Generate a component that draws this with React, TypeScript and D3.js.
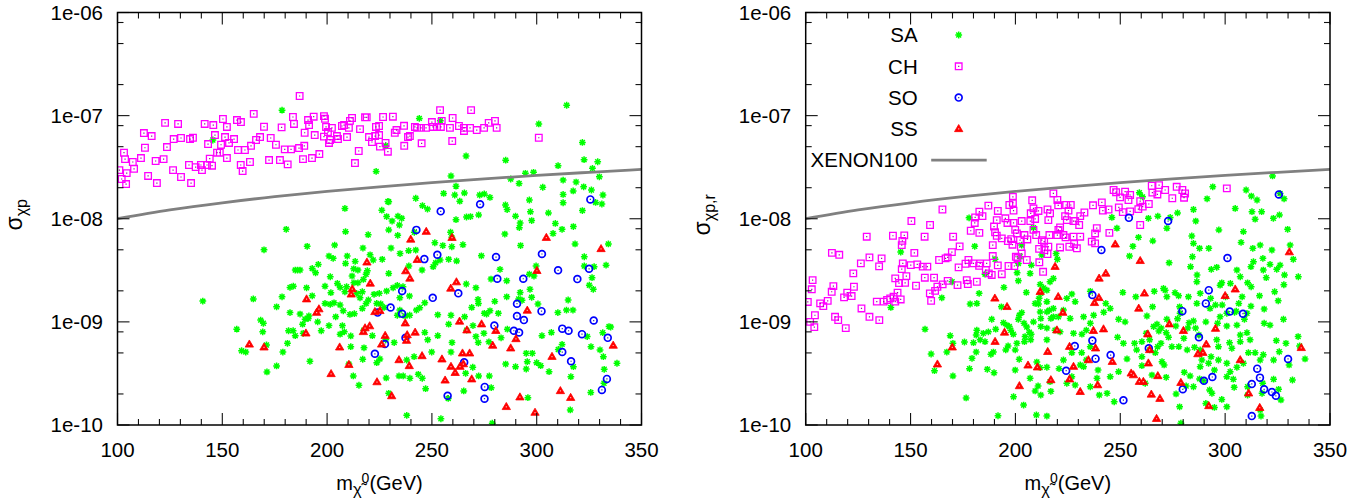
import React from 'react';
import * as d3 from 'd3';

type Pt = [number, number];

const xTickValues = [100, 150, 200, 250, 300, 350];
const yTickValues = [1e-10, 1e-9, 1e-8, 1e-7, 1e-6];
const yTickLabels = ['1e-10', '1e-09', '1e-08', '1e-07', '1e-06'];
const legendLabels = ['SA', 'CH', 'SO', 'SS', 'XENON100'];

const xenonMass = [100, 125, 150, 175, 200, 225, 250, 275, 300, 325, 350];
const xenonSigma = [1.0e-8, 1.217e-8, 1.428e-8, 1.637e-8, 1.84e-8, 2.041e-8, 2.24e-8, 2.436e-8, 2.63e-8, 2.82e-8, 3.013e-8];

const chLeft: Pt[] = [[100.9,2.96e-8],[102.0,2.43e-8],[103.1,4.37e-8],[103.6,3.79e-8],[104.1,2.17e-8],[104.4,2.77e-8],[107.3,3.55e-8],[107.9,3.05e-8],[111.2,3.88e-8],[112.6,6.78e-8],[113.1,4.88e-8],[114.6,2.6e-8],[116.3,6.34e-8],[118.2,3.63e-8],[118.8,2.22e-8],[122.0,3.79e-8],[122.7,8.5e-8],[123.6,4.96e-8],[126.5,2.96e-8],[126.8,5.93e-8],[128.9,8.3e-8],[130.3,6.07e-8],[130.3,2.54e-8],[134.1,3.32e-8],[134.6,5.93e-8],[135.1,2.22e-8],[136.0,6.1e-8],[137.3,3.17e-8],[139.8,3.32e-8],[140.3,2.96e-8],[141.6,8.3e-8],[142.7,3.32e-8],[143.2,5.3e-8],[144.0,3.82e-8],[145.1,3.27e-8],[145.7,8.1e-8],[146.5,6.48e-8],[147.5,4.37e-8],[148.8,4.37e-8],[149.4,5.22e-8],[150.3,9.27e-8],[151.3,6.2e-8],[152.2,7.77e-8],[152.2,3.88e-8],[153.2,5.43e-8],[155.6,5.93e-8],[157.0,9.06e-8],[157.5,4.64e-8],[158.9,8.66e-8],[158.8,3.32e-8],[159.7,2.9e-8],[160.8,4.64e-8],[163.2,3.55e-8],[163.7,5.1e-8],[165.0,1.04e-7],[166.1,5.8e-8],[168.0,6.2e-8],[169.9,7.8e-8],[172.3,3.71e-8],[173.1,6.07e-8],[175.6,5.22e-8],[177.5,3.71e-8],[178.3,7.69e-8],[179.8,4.71e-8],[181.2,3.37e-8],[182.8,4.71e-8],[183.7,9.7e-8],[184.2,8.3e-8],[186.9,1.55e-7],[186.6,4.85e-8],[188.5,3.79e-8],[189.1,5.1e-8],[189.3,6.82e-8],[190.9,9.06e-8],[191.4,8.1e-8],[192.8,3.88e-8],[193.6,9.76e-8],[194.1,6.48e-8],[196.3,4.24e-8],[198.5,9.9e-8],[199.0,9.32e-8],[198.5,6.25e-8],[199.5,7.77e-8],[200.4,6.93e-8],[200.9,5.43e-8],[201.4,5.8e-8],[202.3,7.6e-8],[204.7,6.34e-8],[205.2,5.93e-8],[207.1,7.93e-8],[208.1,8.1e-8],[209.5,6.2e-8],[210.4,7.6e-8],[211.9,9.48e-8],[210.9,8.9e-8],[213.3,3.47e-8],[215.1,4.54e-8],[215.7,7.4e-8],[218.1,9.63e-8],[218.9,9.63e-8],[220.0,6.2e-8],[221.4,5.55e-8],[222.9,6.34e-8],[224.8,6.48e-8],[223.3,7.77e-8],[224.8,7.93e-8],[225.2,5.0e-8],[226.7,9.7e-8],[227.9,5.43e-8],[229.0,4.47e-8],[231.4,9.76e-8],[232.3,6.82e-8],[233.1,7.25e-8],[236.7,7.97e-8],[236.8,5.1e-8],[238.6,6.2e-8],[239.5,6.34e-8],[241.9,7.77e-8],[242.9,7.6e-8],[245.1,5.39e-8],[244.8,7.6e-8],[247.2,7.6e-8],[250.0,8.66e-8],[250.5,7.77e-8],[252.4,7.77e-8],[254.3,7.77e-8],[253.9,1.13e-7],[254.7,8.9e-8],[258.6,7.6e-8],[259.9,9.48e-8],[259.7,5.67e-8],[262.9,7.93e-8],[265.3,7.6e-8],[265.3,7.1e-8],[268.2,7.6e-8],[268.7,1.13e-7],[271.4,7.25e-8],[274.9,7.6e-8],[277.1,8.5e-8],[280.1,8.9e-8],[280.9,7.6e-8],[301.0,6.1e-8]];

const saLeft: Pt[] = [[145.5,5.8e-8],[178.5,1.13e-7],[228.0,5.1e-8],[244.0,9.4e-8],[254.0,8.9e-8],[314.3,1.26e-7],[301.0,8.3e-8],[321.8,5.5e-8],[266.3,4.06e-8],[285.2,3.7e-8],[322.6,3.74e-8],[329.1,3.57e-8],[310.2,3.27e-8],[326.6,3.08e-8],[259.1,2.6e-8],[294.6,2.76e-8],[298.5,2.82e-8],[287.6,2.43e-8],[291.6,2.2e-8],[261.5,2.07e-8],[312.6,2.37e-8],[318.8,2.27e-8],[329.9,2.55e-8],[322.4,2.04e-8],[255.6,1.76e-8],[260.9,1.7e-8],[265.5,1.78e-8],[275.0,1.74e-8],[277.7,1.61e-8],[263.3,1.48e-8],[302.9,2.02e-8],[317.4,1.86e-8],[312.6,1.72e-8],[326.1,1.9e-8],[331.6,1.7e-8],[223.4,2.88e-8],[242.3,1.58e-8],[272.8,1.7e-8],[229.0,1.47e-8],[235.6,1.01e-8],
[331.1,1.39e-8],[328.1,1.44e-8],[312.6,1.43e-8],[285.1,1.36e-8],[296.5,1.52e-8],[321.8,1.2e-8],[272.3,1.09e-8],[268.4,1.05e-8],[289.9,1.06e-8],[297.0,1.17e-8],[305.6,1.14e-8],[261.5,9.8e-9],[292.1,9.1e-9],[291.7,8.2e-9],[297.6,9.6e-9],[308.9,9.0e-9],[312.1,7.9e-9],[317.5,8.4e-9],[284.8,7.1e-9],[307.8,7.2e-9],[258.9,7.4e-9],[264.8,5.6e-9],[259.5,5.35e-9],[292.3,5.5e-9],[318.3,5.7e-9],[334.2,5.7e-9],[229.4,1.46e-8],[233.8,1.06e-8],[231.0,9.5e-9],[229.4,7.8e-9],[234.5,8.7e-9],[233.7,6.9e-9],[245.5,1.34e-8],[247.9,1.24e-8],[266.5,1.04e-8],[285.9,1.23e-8],[208.5,1.26e-8],[226.1,1.21e-8],[228.4,1.05e-8],[180.5,7.9e-9],[208.8,7.5e-9],[219.6,7.0e-9],[259.5,6.6e-9],[251.4,5.85e-9],[255.2,5.5e-9],[169.9,5.0e-9],[190.5,5.4e-9],[203.6,5.55e-9],[217.1,5.2e-9],[230.5,5.2e-9],[238.9,4.9e-9],[242.3,4.97e-9],[234.8,4.6e-9],[241.6,7.4e-9],
[253.9,3.98e-9],[258.0,4.04e-9],[261.8,3.9e-9],[245.3,3.18e-9],[239.0,3.48e-9],[250.6,3.43e-9],[251.8,3.74e-9],[273.6,4.37e-9],[282.5,3.23e-9],[278.2,2.6e-9],[285.7,2.5e-9],[296.5,2.9e-9],[298.7,2.78e-9],[299.7,3.48e-9],[292.1,1.93e-9],[296.8,2.07e-9],[291.4,1.67e-9],[293.0,1.62e-9],[297.6,1.73e-9],[300.6,1.49e-9],[285.7,1.75e-9],[280.0,1.58e-9],[272.0,1.65e-9],[272.2,1.51e-9],[269.0,1.38e-9],[266.4,2.33e-9],[271.0,2.14e-9],[275.0,1.21e-9],[276.1,1.19e-9],[277.7,1.28e-9],[281.7,1.21e-9],[259.1,1.16e-9],[252.8,1.17e-9],[246.6,1.53e-9],[244.2,1.37e-9],[242.6,1.3e-9],[239.4,1.16e-9],[237.2,1.14e-9],[234.7,1.3e-9],[233.5,1.16e-9],[234.7,1.71e-9],[236.2,2.19e-9],[231.5,2.14e-9],[239.3,1.78e-9],[229.4,2.95e-9],[322.7,4.28e-9],[327.4,3.43e-9],[333.1,3.55e-9],[322.7,3.48e-9],[327.0,2.07e-9],[325.1,2.27e-9],[326.4,2.68e-9],[315.0,1.63e-9],[317.3,1.3e-9],[310.1,1.23e-9],[314.2,1.3e-9],
[200.9,4.35e-9],[202.9,4.13e-9],[209.6,4.35e-9],[208.8,3.69e-9],[213.4,3.86e-9],[212.7,3.27e-9],[214.7,3.18e-9],[220.5,4.47e-9],[222.0,3.98e-9],[226.3,4.04e-9],[195.8,3.61e-9],[192.9,3.3e-9],[194.5,2.99e-9],[184.8,3.18e-9],[185.9,3.18e-9],[187.1,3.18e-9],[201.5,2.74e-9],[211.9,2.78e-9],[212.8,2.39e-9],[214.7,2.39e-9],[217.3,2.58e-9],[218.6,2.89e-9],[219.2,3.13e-9],[199.0,2.22e-9],[204.9,2.36e-9],[206.2,2.16e-9],[182.3,2.16e-9],[183.9,2.22e-9],[201.8,1.92e-9],[209.3,2.19e-9],[208.5,1.96e-9],[216.8,1.96e-9],[215.7,1.71e-9],[214.1,1.89e-9],[222.4,1.85e-9],[224.9,1.89e-9],[228.4,1.99e-9],[233.5,2.26e-9],[178.5,1.75e-9],[192.9,1.79e-9],[164.8,1.67e-9],[140.7,1.59e-9],[175.9,1.4e-9],[182.3,1.23e-9],[187.1,1.19e-9],[189.5,1.06e-9],[191.3,1.14e-9],[195.5,1.0e-9],[199.0,1.51e-9],[201.5,1.48e-9],[203.3,1.53e-9],[206.2,1.46e-9],[207.7,1.28e-9],[204.1,1.12e-9],[210.9,1.18e-9],[213.0,1.2e-9],[216.8,1.35e-9],[218.6,1.51e-9],[219.7,1.63e-9],[223.7,1.51e-9],[225.6,1.49e-9],[227.2,1.38e-9],[190.2,2.14e-9],
[168.3,1.04e-9],[169.6,9.7e-10],[169.3,8.0e-10],[156.9,8.5e-10],[181.6,8.2e-10],[183.8,8.2e-10],[188.3,9.5e-10],[188.6,7.75e-10],[184.8,7.35e-10],[197.2,8.2e-10],[200.9,9.2e-10],[207.3,9.2e-10],[208.2,8.0e-10],[206.2,7.6e-10],[211.3,7.3e-10],[217.5,8.3e-10],[221.6,7.35e-10],[228.0,6.7e-10],[232.0,6.3e-10],[181.1,6.2e-10],[171.1,5.97e-10],[159.2,5.25e-10],[161.2,5.1e-10],[178.9,5.1e-10],[217.6,5.6e-10],[223.7,4.02e-10],[225.2,4.37e-10],[217.0,4.34e-10],[211.3,5.75e-10],[191.8,4.15e-10],[210.4,3.9e-10],[175.9,3.74e-10],[171.3,3.27e-10],[212.5,2.99e-10],[228.2,2.86e-10],[234.3,2.99e-10],[215.2,2.43e-10],[229.4,2.03e-10],[191.0,1.08e-9],
[258.0,9.5e-10],[265.6,1.12e-9],[269.6,9.2e-10],[271.0,7.2e-10],[272.1,6.3e-10],[259.6,6.3e-10],[252.8,7.35e-10],[248.0,6.7e-10],[246.6,7.9e-10],[266.6,8.3e-10],[274.8,7.75e-10],[277.2,6.4e-10],[283.0,7.0e-10],[286.0,8.5e-10],[302.5,7.35e-10],[307.0,7.9e-10],[312.1,6.05e-10],[310.3,5.4e-10],[324.1,7.2e-10],[325.9,5.75e-10],[330.2,5.35e-10],[331.5,7.85e-10],[334.5,9.0e-10],[338.3,3.97e-10],[317.5,3.68e-10],[316.3,2.94e-10],[300.0,4.02e-10],[301.9,3.76e-10],[305.9,3.29e-10],[295.0,4.96e-10],[297.9,4.96e-10],[295.5,4.11e-10],[295.0,3.49e-10],[289.9,3.68e-10],[285.2,3.9e-10],[277.4,2.99e-10],[272.3,2.99e-10],[269.5,3.63e-10],[266.1,3.17e-10],[265.2,2.14e-10],[278.3,2.3e-10],[295.8,1.84e-10],[316.0,1.4e-10],[325.8,2.07e-10],[332.1,2.54e-10],[254.3,1.15e-10],[238.0,1.24e-10],[247.0,2.25e-10],[245.4,2.84e-10],[243.5,3.1e-10],[239.5,2.84e-10],[236.3,2.99e-10],[249.9,5.1e-10],[241.5,4.6e-10],[238.0,4.27e-10],[259.1,5.1e-10],[278.8,1.04e-10],[257.8,1.81e-10],[332.2,3.47e-10],[331.8,4.6e-10],[335.3,8.9e-10]];

const soLeft: Pt[] = [[273.0,1.38e-8],[254.2,1.18e-8],[325.6,1.54e-8],[242.6,7.8e-9],[252.6,4.47e-9],[246.4,4.06e-9],[280.6,4.25e-9],[302.5,4.55e-9],[310.2,3.16e-9],[325.0,3.27e-9],[319.4,2.6e-9],[281.2,2.62e-9],[293.6,2.62e-9],[235.8,1.99e-9],[250.4,1.71e-9],[262.6,1.89e-9],[230.3,1.38e-9],[235.8,1.2e-9],[290.6,1.5e-9],[302.3,1.27e-9],[290.6,1.14e-9],[293.9,1.04e-9],[279.8,9.2e-10],[289.1,8.2e-10],[291.6,7.9e-10],[327.2,1.03e-9],[312.2,8.6e-10],[315.2,8.2e-10],[321.6,7.6e-10],[333.9,7.0e-10],[237.4,7.0e-10],[312.2,5.1e-10],[316.4,4.15e-10],[265.4,4.06e-10],[333.5,2.8e-10],[331.1,2.19e-10],[275.2,2.34e-10],[257.5,1.92e-10],[275.1,1.8e-10],[224.1,1.23e-9],[227.6,6.1e-10],[222.8,4.9e-10]];

const ssLeft: Pt[] = [[219.0,3.78e-9],[220.6,2.36e-9],[212.0,2.08e-9],[211.5,1.85e-9],[190.2,1.66e-9],[196.1,1.33e-9],[195.0,1.23e-9],[222.8,1.25e-9],[225.2,1.28e-9],[220.3,9.1e-10],[218.1,8.7e-10],[217.3,8.0e-10],[189.9,7.75e-10],[227.7,7.35e-10],[226.0,6.05e-10],[162.9,6.05e-10],[169.9,5.67e-10],[206.0,5.67e-10],[234.3,4.27e-10],[210.4,3.84e-10],[201.9,3.13e-10],[223.8,2.61e-10],[230.8,1.91e-10],[247.3,7.5e-9],[239.9,6.3e-9],[259.6,6.55e-9],[304.6,6.55e-9],[330.7,5.1e-9],[243.0,4.0e-9],[237.5,3.11e-9],[239.5,2.64e-9],[300.1,3.13e-9],[261.7,2.43e-9],[259.0,2.11e-9],[295.5,1.29e-9],[237.3,9.7e-10],[263.2,1.01e-9],[273.7,9.5e-10],[266.7,8.3e-10],[280.5,8.2e-10],[242.0,7.9e-10],[238.2,7.46e-10],[237.9,6.58e-10],[290.1,6.83e-10],[279.0,5.9e-10],[287.6,5.55e-10],[264.6,4.96e-10],[268.0,4.96e-10],[245.3,4.67e-10],[254.8,4.34e-10],[307.3,4.6e-10],[336.5,5.9e-10],[239.2,3.74e-10],[259.1,3.68e-10],[263.4,3.68e-10],[265.0,3.9e-10],[261.1,3.21e-10],[256.3,2.71e-10],[269.0,2.78e-10],[292.0,1.86e-10],[311.3,2.14e-10],[316.2,1.84e-10],[285.5,1.5e-10],[299.2,1.32e-10]];

const chRight: Pt[] = [[101.0,1.56e-9],[102.1,1.0e-9],[104.1,8.9e-10],[102.9,2.07e-9],[103.3,2.54e-9],[104.4,1.16e-9],[106.9,1.51e-9],[108.4,1.42e-9],[110.5,1.6e-9],[112.4,1.96e-9],[113.2,2.22e-9],[114.0,1.12e-9],[115.5,1.04e-9],[119.1,8.7e-10],[118.3,1.73e-9],[119.8,1.92e-9],[121.9,1.78e-9],[123.0,2.19e-9],[122.7,2.95e-9],[112.5,4.67e-9],[116.0,4.47e-9],
[126.6,1.35e-9],[126.3,3.69e-9],[130.4,1.12e-9],[130.4,4.22e-9],[129.1,6.7e-9],[133.9,1.57e-9],[135.1,1.04e-9],[136.2,4.13e-9],[135.0,3.45e-9],[137.2,1.57e-9],[138.8,1.63e-9],[140.3,1.69e-9],[141.9,1.75e-9],[143.8,1.92e-9],[142.7,1.57e-9],[145.3,1.65e-9],[141.6,6.84e-9],[142.7,2.64e-9],[144.5,2.38e-9],[147.4,2.39e-9],[148.0,2.78e-9],[145.8,3.25e-9],[146.3,3.69e-9],[150.1,3.55e-9],[153.2,3.61e-9],[151.8,4.67e-9],[150.4,9.5e-9],[147.0,6.9e-9],[146.1,6.1e-9],[145.8,5.55e-9],[152.6,2.24e-9],[156.8,2.68e-9],[161.2,2.68e-9],[158.0,3.43e-9],[155.8,3.43e-9],[159.2,1.89e-9],[159.8,1.6e-9],[161.7,2.0e-9],[162.8,2.19e-9],[165.3,2.31e-9],[167.7,2.5e-9],[163.6,3.98e-9],[167.7,4.22e-9],[159.3,8.7e-9],[165.2,1.23e-8],[156.7,6.7e-9],[170.3,6.7e-9],[169.7,4.75e-9],[173.4,5.4e-9],[172.9,3.38e-9],[172.4,2.27e-9],
[176.8,2.54e-9],[177.6,3.98e-9],[180.0,3.69e-9],[181.6,2.45e-9],[183.2,3.69e-9],[186.3,3.69e-9],[185.9,3.18e-9],[188.7,2.85e-9],[189.2,4.35e-9],[193.5,2.9e-9],[199.5,3.48e-9],[200.2,4.28e-9],[203.0,4.6e-9],[213.2,3.06e-9],[215.3,4.55e-9],[178.7,7.65e-9],[180.8,1.03e-8],[180.6,9.1e-9],[182.8,1.17e-8],[184.3,1.06e-8],[182.8,7.3e-9],[187.1,1.34e-8],[191.6,1.19e-8],[191.1,9.7e-9],[189.8,8.4e-9],[190.3,7.4e-9],[195.2,1.01e-8],[196.2,9.1e-9],[197.1,1.36e-8],[198.8,1.63e-8],[198.8,1.43e-8],[199.1,1.2e-8],[199.1,9.1e-9],[199.9,7.8e-9],[200.7,7.2e-9],[196.4,6.07e-9],[198.0,6.35e-9],[198.6,5.6e-9],[193.5,6.45e-9],[191.1,6.84e-9],[189.2,5.55e-9],[203.0,9.5e-9],[204.3,6.95e-9],[205.7,6.3e-9],[208.0,1.51e-8],[207.3,1.13e-8],[208.6,1.26e-8],[211.0,1.19e-8],[207.1,9.5e-9],[209.4,9.95e-9],[208.6,7.8e-9],[209.9,6.95e-9],[212.6,6.2e-9],[215.3,1.23e-8],[216.5,1.13e-8],[215.7,9.7e-9],[218.1,1.76e-8],[220.0,1.52e-8],[220.5,7.8e-9],[220.0,6.95e-9],[216.2,6.95e-9],[215.7,5.35e-9],[213.7,6.0e-9],[202.2,6.2e-9],[202.6,5.35e-9],[211.3,5.1e-9],[213.8,4.97e-9],[211.4,3.78e-9],[201.0,4.16e-9],[205.4,3.98e-9],[196.7,3.48e-9],[191.6,3.53e-9],[187.3,2.95e-9],[182.7,3.5e-9],[176.2,3.66e-9],[177.3,2.33e-9],[166.7,4.13e-9],
[220.4,1.35e-8],[226.4,1.36e-8],[224.2,1.36e-8],[225.3,1.2e-8],[223.7,1.06e-8],[224.5,9.7e-9],[221.3,8.25e-9],[222.9,6.95e-9],[223.9,6.6e-9],[227.7,6.7e-9],[228.5,9.5e-9],[230.9,1.06e-8],[232.9,1.15e-8],[230.4,8.7e-9],[237.0,1.35e-8],[241.2,1.44e-8],[241.7,1.2e-8],[244.4,1.23e-8],[246.8,1.9e-8],[248.0,1.81e-8],[249.9,1.61e-8],[252.3,1.83e-8],[254.7,1.7e-8],[249.3,1.29e-8],[251.2,1.16e-8],[254.7,1.18e-8],[258.6,1.24e-8],[260.7,1.31e-8],[253.9,1.52e-8],[259.5,1.48e-8],[263.6,1.39e-8],[265.0,2.09e-8],[268.5,2.12e-8],[265.3,1.79e-8],[267.7,1.72e-8],[271.4,1.9e-8],[276.9,2.04e-8],[279.6,1.9e-8],[280.9,1.76e-8],[280.4,1.6e-8],[274.8,1.58e-8],[238.8,8.1e-9],[238.0,7.2e-9],[238.0,5.77e-9],[244.8,7.3e-9],[236.4,6.0e-9],[259.5,8.7e-9],[300.8,1.97e-8],[230.9,6.7e-9],[228.0,5.7e-9],[225.7,5.35e-9],[221.3,5.27e-9],[229.3,5.17e-9],[227.7,9.5e-9]];

const saRight: Pt[] = [[177.9,1.02e-8],[180.6,5.4e-9],[145.3,4.75e-9],[140.6,1.38e-9],[164.9,1.71e-9],[169.8,2.45e-9],[178.4,1.49e-9],[182.7,1.89e-9],[185.5,2.9e-9],[190.3,4.04e-9],[194.5,2.16e-9],[188.7,1.06e-9],[190.6,8.5e-10],[193.3,1.4e-9],[194.3,9.8e-10],[195.9,9.3e-10],[197.1,9.0e-10],[197.8,8.3e-10],[199.0,7.6e-10],[201.4,1.06e-9],[200.7,6.2e-10],[201.8,4.34e-10],[201.9,1.16e-9],[203.0,1.23e-9],[204.1,9.7e-10],[205.4,8.9e-10],[206.7,7.95e-10],[204.6,7.2e-10],[205.2,1.93e-9],[200.8,2.99e-9],[201.4,2.5e-9],[207.5,7.6e-10],[207.3,6.7e-10],[207.6,3.55e-9],[203.0,5.55e-9],[208.6,8.2e-9],[220.0,4.04e-9],[211.8,2.31e-9],[212.1,1.89e-9],[213.4,2.13e-9],[215.0,2.03e-9],[216.5,2.45e-9],[218.1,2.64e-9],[215.0,1.57e-9],[216.2,1.3e-9],[216.9,1.08e-9],[211.0,1.49e-9],[211.8,1.25e-9],[215.0,1.25e-9],[212.1,9.0e-10],[215.0,8.7e-10],[215.0,6.7e-10],[218.1,1.12e-9],[220.5,1.12e-9],[218.9,8.3e-10],[210.2,4.08e-10],[211.8,3.6e-10],[215.0,3.63e-10],[216.9,2.12e-10],[210.0,1.25e-10],[215.0,1.22e-10],[191.7,1.23e-10],[176.5,1.83e-10],[170.2,2.99e-10],[178.1,3.52e-10],[179.3,4.43e-10],[181.3,5.1e-10],[167.3,5.1e-10],[168.9,7.35e-10],[156.9,8.5e-10],[159.8,4.88e-10],[161.4,3.36e-10],[175.7,6.38e-10],[181.6,8.3e-10],[183.2,6.7e-10],[184.7,7.75e-10],[185.5,6.43e-10],[189.5,5.1e-10],[186.6,3.47e-10],[189.8,3.21e-10],[195.4,5.35e-10],[196.5,5.84e-10],[207.0,2.84e-10],[210.8,2.39e-10],[220.8,3.52e-10],[211.3,1.69e-9],[219.4,4.6e-9],[170.2,6.2e-10],[180.0,6.28e-10],[181.3,7.46e-10],[187.1,8.0e-10],[188.3,4.85e-10],[199.9,5.35e-10],[204.3,6.43e-10],[208.6,1.0e-9],[209.4,1.51e-9],[212.1,1.08e-9],[216.5,2.63e-10],[202.2,4.28e-9],[201.4,3.69e-9],[207.0,2.95e-9],[212.6,4.45e-9],[218.1,1.35e-9],[181.6,1.51e-9],[199.9,3.41e-10],[209.4,2.14e-10],[212.1,1.95e-10],[199.1,1.88e-10],[203.9,1.56e-10],
[322.6,2.6e-8],[310.0,1.9e-8],[312.5,1.66e-8],[315.2,1.52e-8],[317.4,1.17e-8],[312.8,1.17e-8],[314.3,9.9e-9],[304.8,1.26e-8],[291.4,1.56e-8],[294.1,2.04e-8],[284.9,1.23e-8],[286.0,9.5e-9],[277.3,1.14e-8],[273.8,1.03e-8],[272.2,8.1e-9],[267.9,1.06e-8],[263.4,1.01e-8],[259.1,1.79e-8],[260.6,1.63e-8],[246.0,1.03e-8],[248.4,8.1e-9],[258.7,6.6e-9],[256.0,5.4e-9],[254.4,4.35e-9],[265.5,6.1e-9],[284.1,6.8e-9],[284.9,5.77e-9],[287.8,5.17e-9],[292.2,5.17e-9],[297.0,7.8e-9],[308.7,7.5e-9],[307.6,5.9e-9],[313.2,5.17e-9],[316.7,5.55e-9],[318.0,4.13e-9],[321.4,3.61e-9],[326.2,3.55e-9],[322.3,4.97e-9],[329.8,7.9e-9],[331.0,5.55e-9],[332.5,4.04e-9],[325.9,1.09e-8],[328.1,1.56e-8],[326.2,1.76e-8],[323.0,1.01e-8],[334.9,2.74e-9],[328.3,2.85e-9],[328.0,2.29e-9],[323.6,1.96e-9],[325.3,1.6e-9],[319.6,2.68e-9],[318.6,1.33e-9],[316.4,1.79e-9],[312.4,2.19e-9],[308.1,1.75e-9],[306.5,1.51e-9],[302.5,2.36e-9],[300.2,1.75e-9],[298.6,1.46e-9],[295.4,1.46e-9],[304.5,1.24e-9],[296.4,9.7e-10],[293.4,3.23e-9],[286.6,2.85e-9],[283.5,3.43e-9],[288.1,1.89e-9],[286.5,2.45e-9],[298.4,2.39e-9],[296.0,3.38e-9],[284.4,4.28e-9],[273.3,3.74e-9],[271.4,2.03e-9],[266.2,1.98e-9],[277.8,1.79e-9],[272.2,1.75e-9],[278.3,1.4e-9],[282.8,9.8e-10],[277.3,1.07e-9],[276.5,9.1e-10],[273.0,7.1e-10],[274.6,5.75e-10],[267.5,9.5e-10],[265.4,1.4e-9],[262.7,1.14e-9],[260.3,6.43e-10],[262.4,7.75e-10],[269.4,6.2e-10],[266.7,5.03e-10],[269.9,4.11e-10],[264.0,6.7e-10],[264.0,5.35e-10],[260.3,4.6e-10],[260.3,3.76e-10],[251.5,6.2e-10],[248.7,7.1e-10],[253.2,4.37e-10],[249.2,3.29e-10],[245.2,2.94e-10],[243.7,2.03e-10],[240.0,1.95e-10],[235.7,2.35e-10],[247.1,1.68e-10],[239.4,3.41e-10],[238.9,2.84e-10],[231.6,5.03e-10],[232.5,3.68e-10],[233.8,4.27e-10],[235.7,5.75e-10],[231.7,7.6e-10],[233.8,8.3e-10],[235.7,9.7e-10],[232.5,1.12e-9],[237.3,1.16e-9],[242.1,1.24e-9],[245.2,1.35e-9],[249.2,1.06e-9],[252.3,1.0e-9],[257.4,1.75e-9],[251.2,1.93e-9],[243.1,1.51e-9],[235.7,1.98e-9],[226.9,1.86e-9],[228.5,1.57e-9],[224.5,1.69e-9],[222.9,1.3e-9],[226.1,1.08e-9],[227.7,7.75e-10],[221.3,8.0e-10],[222.9,4.27e-10],[226.9,5.03e-10],[224.5,2.54e-10],[226.9,2.94e-10],[228.5,2.44e-10],[230.9,3.82e-10],[265.1,3.05e-10],[261.9,2.54e-10],[271.9,2.9e-10],[278.3,1.5e-10],[278.9,1.04e-10],[284.9,2.35e-10],[287.8,2.8e-10],[280.5,3.24e-10],[283.3,2.99e-10],[288.1,3.68e-10],[292.1,3.97e-10],[294.9,3.41e-10],[293.7,2.03e-10],[298.4,1.77e-10],[294.9,1.48e-10],[300.8,2.94e-10],[302.4,3.29e-10],[303.9,2.78e-10],[304.3,2.32e-10],[305.6,3.63e-10],[308.7,3.97e-10],[302.1,6.28e-10],[303.2,5.55e-10],[307.2,6.43e-10],[296.0,6.7e-10],[296.8,5.75e-10],[300.8,9.1e-10],[310.4,7.86e-10],[311.9,6.7e-10],[314.3,5.03e-10],[316.7,4.27e-10],[323.1,4.27e-10],[324.4,6.58e-10],[330.5,3.82e-10],[332.1,2.73e-10],[334.8,7.2e-10],[338.1,4.37e-10],[326.6,1.75e-10],[317.1,1.22e-10],[317.9,2.54e-10],
[300.8,1.5e-10],[310.7,2.35e-10],[316.7,1.4e-10],[323.1,2.78e-10],[325.5,2.22e-10],[335.5,5.84e-10],[329.0,6.2e-10],[325.8,5.13e-10],[318.2,4.8e-10],[311.1,5.03e-10],[300.8,3.97e-10],[296.8,4.27e-10],[288.9,4.27e-10],[288.1,5.35e-10],[293.3,4.6e-10],[285.4,5.67e-10],[281.9,5.35e-10],[277.9,5.75e-10],[280.3,6.93e-10],[282.2,8.7e-10],[285.9,8.7e-10],[287.5,7.46e-10],[271.9,7.86e-10],[268.4,8.16e-10],[267.8,5.75e-10],[265.9,9.0e-10],[256.8,6.2e-10],[257.8,5.35e-10],[270.9,3.82e-10],[276.6,2.0e-10],[281.4,2.39e-10],[289.7,2.69e-10],[290.8,1.62e-10],[310.7,1.95e-10],[317.6,2.03e-10],[307.2,7.46e-10],[305.6,9.3e-10],[309.2,1.06e-9],[318.6,9.7e-10],[321.4,9.3e-10],[310.4,1.21e-9],[297.6,1.12e-9],[300.8,1.21e-9],[305.3,1.27e-9],[312.3,1.42e-9],[292.8,1.35e-9],[290.8,1.0e-9],[284.9,1.02e-9],[278.5,1.21e-9],[272.2,1.06e-9],[269.5,8.7e-10],[276.1,1.92e-9],[270.6,2.11e-9],[282.5,1.75e-9],[286.5,1.51e-9],[293.1,1.69e-9],[297.6,2.27e-9],[310.7,2.39e-9],[305.6,3.18e-9],[307.2,2.74e-9],[312.3,3.43e-9],[313.5,3.83e-9],[318.2,3.18e-9],[324.6,3.23e-9],[327.8,1.06e-9],[292.6,2.19e-10]];

const soRight: Pt[] = [[325.6,1.72e-8],[254.1,1.02e-8],[272.8,9.5e-9],[241.0,4.97e-9],[301.1,4.16e-9],[292.2,2.03e-9],[290.8,1.51e-9],[279.6,1.27e-9],[302.2,1.26e-9],[308.5,1.2e-9],[236.7,1.82e-9],[287.5,7.1e-10],[236.7,6.58e-10],[228.3,5.84e-10],[263.6,5.55e-10],[245.4,4.77e-10],[238.2,4.4e-10],[330.0,4.37e-10],[224.2,3.36e-10],[315.3,3.52e-10],[316.6,2.88e-10],[293.9,2.92e-10],[289.9,2.69e-10],[312.7,2.5e-10],[279.8,2.22e-10],[318.6,2.22e-10],[322.3,2.09e-10],[324.2,1.92e-10],[251.5,1.74e-10],[312.7,1.22e-10]];

const ssRight: Pt[] = [[247.6,5.65e-9],[259.5,3.91e-9],[243.1,2.95e-9],[239.9,2.64e-9],[330.6,4.75e-9],[261.5,1.89e-9],[239.8,1.71e-9],[237.7,1.53e-9],[258.8,1.35e-9],[222.6,1.23e-9],[304.8,2.07e-9],[300.0,1.79e-9],[273.4,9.5e-10],[280.1,8.2e-10],[295.4,8.6e-10],[263.1,7.6e-10],[242.0,8.5e-10],[237.2,8.2e-10],[291.0,6.05e-10],[287.0,4.88e-10],[289.4,5.03e-10],[264.0,5.35e-10],[238.2,5.55e-10],[225.8,5.75e-10],[234.8,4.27e-10],[246.2,4.11e-10],[263.4,3.97e-10],[307.2,4.27e-10],[336.3,5.6e-10],[227.7,3.68e-10],[225.8,2.78e-10],[255.2,3.17e-10],[256.3,3.05e-10],[259.1,2.63e-10],[261.0,2.63e-10],[267.9,2.99e-10],[239.2,2.44e-10],[230.9,2.1e-10],[264.8,1.98e-10],[268.9,1.8e-10],[278.9,2.57e-10],[311.2,2.03e-10],[292.2,1.53e-10],[316.5,1.47e-10],[267.3,1.15e-10],[218.9,3.43e-9],[190.2,1.69e-9],[211.8,1.96e-9],[220.4,1.75e-9],[196.0,1.4e-9],[219.8,8.3e-10],[190.3,6.43e-10],[194.8,7.9e-10],[169.9,5.67e-10],[215.4,5.13e-10],[162.8,3.88e-10],[206.0,3.79e-10],[210.5,3.63e-10],[216.9,2.73e-10],[201.9,2.39e-10]];

const FONT = "'Liberation Sans', Arial, Helvetica, sans-serif";
const GREEN = '#00ff00';
const MAGENTA = '#ff00ff';
const BLUE = '#0000ff';
const RED = '#ff0000';
const GRAY = '#808080';

function starPath(pts: [number, number][], s = 3.4) {
  const d = s * 0.72;
  return pts.map(([cx, cy]) =>
    `M${cx - s},${cy}h${2 * s}M${cx},${cy - s}v${2 * s}M${cx - d},${cy - d}l${2 * d},${2 * d}M${cx - d},${cy + d}l${2 * d},${-2 * d}`
  ).join('');
}
function squarePath(pts: [number, number][], h = 3.3) {
  return pts.map(([cx, cy]) => `M${cx - h},${cy - h}h${2 * h}v${2 * h}h${-2 * h}Z`).join('');
}
function dotPath(pts: [number, number][], r = 0.6) {
  return pts.map(([cx, cy]) => `M${cx - r},${cy - r}h${2 * r}v${2 * r}h${-2 * r}Z`).join('');
}
function triPath(pts: [number, number][], a = 4.4) {
  return pts.map(([cx, cy]) => `M${cx},${cy - a}L${cx + a * 0.95},${cy + a * 0.62}L${cx - a * 0.95},${cy + a * 0.62}Z`).join('');
}

interface PanelProps {
  id: string; x0: number; x1: number; y0: number; y1: number;
  sa: Pt[]; ch: Pt[]; so: Pt[]; ss: Pt[];
  yLabelX: number; yLabelSub: string; legend?: boolean;
}

function Panel({ id, x0, x1, y0, y1, sa, ch, so, ss, yLabelX, yLabelSub, legend }: PanelProps) {
  const x = d3.scaleLinear().domain([100, 350]).range([x0, x1]);
  const y = d3.scaleLog().domain([1e-10, 1e-6]).range([y1, y0]);
  const minorX = d3.range(110, 350, 10).filter((v) => v % 50 !== 0);
  const minorY: number[] = [];
  [1e-10, 1e-9, 1e-8, 1e-7].forEach((b) => [2, 5, 8].forEach((m) => minorY.push(m * b)));
  const proj = (arr: Pt[]) => arr.map(([m, s]) => [x(m), y(s)] as [number, number]);
  const saP = proj(sa), chP = proj(ch), soP = proj(so), ssP = proj(ss);
  const line = d3.line<number>()
    .x((_, i) => x(xenonMass[i]))
    .y((d) => y(d))
    .curve(d3.curveMonotoneX);
  const tickC = '#111';
  const MAJ = 12, MIN = 6;
  const cx = (x0 + x1) / 2;
  const cy = (y0 + y1) / 2 - 4;
  const legX = x0 + 112;
  const legSym = x0 + 153;
  const legY0 = 35;
  const legDy = 31.3;
  return (
    <g>
      <defs>
        <clipPath id={`clip-${id}`}>
          <rect x={x0} y={y0} width={x1 - x0} height={y1 - y0} />
        </clipPath>
      </defs>
      <g clipPath={`url(#clip-${id})`}>
        <path d={starPath(saP)} stroke={GREEN} strokeWidth={1.5} fill="none" />
        <path d={squarePath(chP)} stroke={MAGENTA} strokeWidth={1.3} fill="none" />
        <path d={dotPath(chP)} fill="#aa00aa" />
        {soP.map(([px, py], i) => (
          <circle key={i} cx={px} cy={py} r={3.4} stroke={BLUE} strokeWidth={1.7} fill="none" />
        ))}
        <path d={dotPath(soP)} fill="#3333aa" />
        <path d={triPath(ssP)} fill={RED} stroke={RED} strokeWidth={0.8} strokeLinejoin="round" />
        <path d={dotPath(ssP, 0.6)} fill="#ffb0b0" />
        <path d={line(xenonSigma) || ''} stroke={GRAY} strokeWidth={2.8} fill="none" />
      </g>
      {xTickValues.map((v) => (
        <g key={`xt${v}`}>
          <line x1={x(v)} x2={x(v)} y1={y1} y2={y1 - MAJ} stroke={tickC} strokeWidth={1.1} />
          <line x1={x(v)} x2={x(v)} y1={y0} y2={y0 + MAJ} stroke={tickC} strokeWidth={1.1} />
          <text x={x(v)} y={y1 + 31.5} textAnchor="middle" fontFamily={FONT} fontSize={20.5} fill="#000">{v}</text>
        </g>
      ))}
      {minorX.map((v) => (
        <g key={`xm${v}`}>
          <line x1={x(v)} x2={x(v)} y1={y1} y2={y1 - MIN} stroke={tickC} strokeWidth={1.1} />
          <line x1={x(v)} x2={x(v)} y1={y0} y2={y0 + MIN} stroke={tickC} strokeWidth={1.1} />
        </g>
      ))}
      {yTickValues.map((v, i) => (
        <g key={`yt${i}`}>
          <line x1={x0} x2={x0 + MAJ} y1={y(v)} y2={y(v)} stroke={tickC} strokeWidth={1.1} />
          <line x1={x1} x2={x1 - MAJ} y1={y(v)} y2={y(v)} stroke={tickC} strokeWidth={1.1} />
          <text x={x0 - 14.5} y={y(v) + 7.4} textAnchor="end" fontFamily={FONT} fontSize={20.5} fill="#000">{yTickLabels[i]}</text>
        </g>
      ))}
      {minorY.map((v, i) => (
        <g key={`ym${i}`}>
          <line x1={x0} x2={x0 + MIN} y1={y(v)} y2={y(v)} stroke={tickC} strokeWidth={1.1} />
          <line x1={x1} x2={x1 - MIN} y1={y(v)} y2={y(v)} stroke={tickC} strokeWidth={1.1} />
        </g>
      ))}
      <rect x={x0} y={y0} width={x1 - x0} height={y1 - y0} fill="none" stroke="#000" strokeWidth={1.5} />
      <text x={cx} y={489.5} textAnchor="middle" fontFamily={FONT} fontSize={20} fill="#000">
        m<tspan dy={5} fontSize={16.5}>{'\u03c7\u0303'}</tspan><tspan dy={-12} fontSize={14}>0</tspan><tspan dy={7} fontSize={20}>(GeV)</tspan>
      </text>
      <text transform={`translate(${yLabelX},${cy}) rotate(-90)`} textAnchor="middle" fontFamily={FONT} fontSize={23} fill="#000">
        {'\u03c3'}<tspan dy={5} fontSize={16}>{yLabelSub}</tspan>
      </text>
      {legend && (
        <g>
          {legendLabels.map((lab, i) => (
            <text key={lab} x={legX} y={legY0 + i * legDy + 7.2} textAnchor="end" fontFamily={FONT} fontSize={20.5} fill="#000">{lab}</text>
          ))}
          <path d={starPath([[legSym, legY0]])} stroke={GREEN} strokeWidth={1.5} fill="none" />
          <path d={squarePath([[legSym, legY0 + legDy]])} stroke={MAGENTA} strokeWidth={1.3} fill="none" />
          <path d={dotPath([[legSym, legY0 + legDy]])} fill="#aa00aa" />
          <circle cx={legSym} cy={legY0 + 2 * legDy} r={3.4} stroke={BLUE} strokeWidth={1.7} fill="none" />
          <path d={dotPath([[legSym, legY0 + 2 * legDy]])} fill="#3333aa" />
          <path d={triPath([[legSym, legY0 + 3 * legDy]])} fill={RED} stroke={RED} strokeWidth={0.8} strokeLinejoin="round" />
          <path d={dotPath([[legSym, legY0 + 3 * legDy]])} fill="#ffb0b0" />
          <line x1={legSym - 27.5} x2={legSym + 28} y1={legY0 + 4 * legDy} y2={legY0 + 4 * legDy} stroke={GRAY} strokeWidth={2.8} />
        </g>
      )}
    </g>
  );
}

export default function App() {
  return (
    <svg width={1371} height={503} style={{ position: 'absolute', left: 0, top: 0, background: '#fff' }}>
      <rect x={0} y={0} width={1371} height={503} fill="#fff" />
      <Panel id="l" x0={117.5} x1={641.5} y0={12.5} y1={425} sa={saLeft} ch={chLeft} so={soLeft} ss={ssLeft} yLabelX={22} yLabelSub={'\u03c7p'} />
      <Panel id="r" x0={805.7} x1={1330} y0={12.5} y1={425} sa={saRight} ch={chRight} so={soRight} ss={ssRight} yLabelX={710} yLabelSub={'\u03c7p,r'} legend />
    </svg>
  );
}
